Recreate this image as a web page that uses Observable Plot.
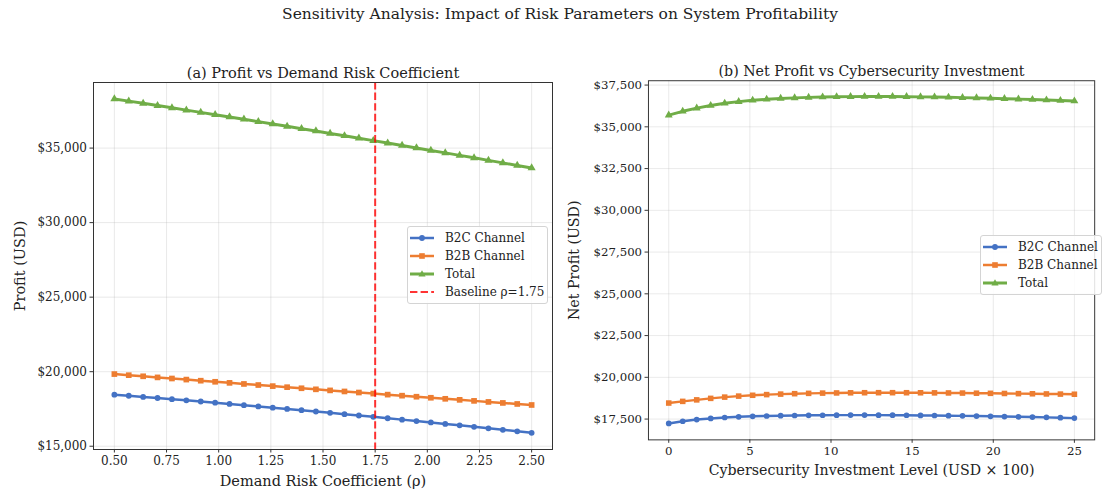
<!DOCTYPE html>
<html><head><meta charset="utf-8">
<script src="https://cdn.jsdelivr.net/npm/d3@7"></script>
<script src="https://cdn.jsdelivr.net/npm/@observablehq/plot@0.6"></script>
<style>
html,body{margin:0;padding:0;background:#fff;}
body{width:1103px;height:498px;overflow:hidden;position:relative;font-family:"DejaVu Serif",serif;color:#222;}
#title{position:absolute;left:0;top:4px;width:1120px;text-align:center;font-size:15.5px;line-height:20px;}
.panel{position:absolute;top:0;}
.legend{position:absolute;background:rgba(255,255,255,0.85);border:1px solid #d4d4d4;border-radius:3px;padding:2px 0 2px 2px;font-size:12px;box-sizing:content-box;}
.row{display:flex;align-items:center;height:18px;white-space:nowrap;}
.row svg{margin-right:11px;flex:none;}
</style></head><body>
<div id="title">Sensitivity Analysis: Impact of Risk Parameters on System Profitability</div>
<div id="left" class="panel" style="left:0"></div>
<div id="right" class="panel" style="left:555px"></div>
<div id="legA" class="legend" style="left:407px;top:226px;width:137px"></div>
<div id="legB" class="legend" style="left:980px;top:235px;width:118px"></div>
<script>
// ---- Panel (a): demand risk coefficient ----
const rho = [0.5,0.569,0.638,0.707,0.776,0.845,0.914,0.983,1.052,1.121,1.190,1.259,1.328,1.397,1.466,1.534,1.603,1.672,1.741,1.810,1.879,1.948,2.017,2.086,2.155,2.224,2.293,2.362,2.431,2.5];
const b2cA = [18460,18386,18310,18234,18156,18078,17999,17918,17837,17755,17671,17587,17502,17416,17328,17240,17151,17060,16969,16877,16784,16689,16594,16498,16401,16303,16203,16103,16002,15900];
const b2bA = [19840,19765,19691,19617,19543,19470,19396,19323,19250,19177,19105,19032,18960,18888,18817,18745,18674,18603,18532,18461,18391,18321,18251,18181,18111,18042,17972,17904,17835,17766];
const totA = [38300,38151,38001,37851,37699,37548,37395,37241,37087,36932,36776,36619,36462,36304,36145,35985,35825,35663,35501,35338,35175,35010,34845,34679,34512,34345,34175,34007,33837,33666];
const baselineRho = 1.75;
const xTicksA = [0.5,0.75,1.0,1.25,1.5,1.75,2.0,2.25,2.5];
const yTicksA = [15000,20000,25000,30000,35000];

// ---- Panel (b): cybersecurity investment ----
const invest = [0,0.862,1.724,2.586,3.448,4.310,5.172,6.034,6.897,7.759,8.621,9.483,10.345,11.207,12.069,12.931,13.793,14.655,15.517,16.379,17.241,18.103,18.966,19.828,20.690,21.552,22.414,23.276,24.138,25];
const b2cB = [17240,17370,17470,17540,17595,17635,17665,17685,17705,17715,17725,17730,17735,17737,17737,17735,17732,17727,17720,17713,17703,17692,17680,17666,17652,17636,17620,17603,17582,17558];
const b2bB = [18460,18560,18650,18740,18815,18875,18925,18965,18995,19020,19040,19055,19065,19073,19078,19080,19080,19078,19075,19070,19065,19058,19050,19042,19033,19024,19015,19005,18996,18987];
const totB = [35700,35930,36120,36280,36410,36510,36590,36650,36700,36735,36765,36785,36800,36810,36815,36815,36812,36805,36795,36783,36768,36750,36730,36708,36685,36660,36635,36608,36578,36545];
const xTicksB = [0,5,10,15,20,25];
const yTicksB = [17500,20000,22500,25000,27500,30000,32500,35000,37500];

const seriesNames = ["B2C Channel","B2B Channel","Total"];
const colors = {"B2C Channel":"#4472C4","B2B Channel":"#ED7D31","Total":"#70AD47"};
const symbols = {"B2C Channel":"circle","B2B Channel":"square","Total":"triangle"};

const usd = d => "$" + d3.format(",")(d);

function rows(xs, ys) { return xs.map((x,i)=>({x, y: ys[i]})); }

function panel(opts) {
  const {xs, data, xDomain, yDomain, xTicks, xFmt, yTicks, title, xLabel, yLabel, ml, mr, width, baseline, ylabDx} = opts;
  const marks = [
    Plot.ruleX(xTicks, {stroke:"#b0b0b0", strokeOpacity:0.35, strokeWidth:0.8}),
    Plot.ruleY(yTicks, {stroke:"#b0b0b0", strokeOpacity:0.35, strokeWidth:0.8}),
  ];
  seriesNames.forEach((name, k) => {
    const r = rows(xs, data[k]);
    const sw = name === "Total" ? 3 : 2.5;
    marks.push(Plot.line(r, {x:"x", y:"y", stroke: colors[name], strokeWidth: sw}));
    const rr = name === "B2C Channel" ? 2.9 : name === "B2B Channel" ? 3.2 : 3.0;
    marks.push(Plot.dot(r, {x:"x", y:"y", symbol: symbols[name], r: rr, fill: colors[name], stroke: "none"}));
  });
  if (baseline != null) {
    marks.push(Plot.ruleX([baseline], {stroke:"red", strokeOpacity:0.8, strokeWidth:2, strokeDasharray:"7.4,3.2"}));
  }
  marks.push(
    Plot.frame({stroke:"#333", strokeWidth:1}),
    Plot.axisX({ticks: xTicks, tickFormat: xFmt, tickSize: 3.5, tickPadding: 3, label: null, stroke:"#333", fill:"#222", fontSize: 12}),
    Plot.axisY({ticks: yTicks, tickFormat: usd, tickSize: 3.5, tickPadding: 3, label: null, stroke:"#333", fill:"#222", fontSize: 12}),
    Plot.text([title], {text: d=>d, frameAnchor:"top", dy:-14.7, fontSize:14.5, fill:"#222"}),
    Plot.text([xLabel], {text: d=>d, frameAnchor:"bottom", dy:36, fontSize:14.5, fill:"#222"}),
    Plot.text([yLabel], {text: d=>d, frameAnchor:"left", textAnchor:"middle", rotate:-90, dx:ylabDx, fontSize:14.5, fill:"#222"})
  );
  return Plot.plot({
    width, height: 498,
    marginLeft: ml, marginRight: mr, marginTop: 82, marginBottom: 49,
    x: {domain: xDomain},
    y: {domain: yDomain},
    style: {fontFamily: "DejaVu Serif", fontSize: "12px", color: "#222", background: "transparent", overflow: "visible"},
    marks
  });
}

document.getElementById("left").append(panel({
  xs: rho, data: [b2cA, b2bA, totA], xDomain: [0.4, 2.6], yDomain: [14780, 39400],
  xTicks: xTicksA, xFmt: d => d.toFixed(2), yTicks: yTicksA,
  title: "(a) Profit vs Demand Risk Coefficient", xLabel: "Demand Risk Coefficient (ρ)", yLabel: "Profit (USD)",
  ml: 93, mr: 8, width: 560, baseline: baselineRho, ylabDx: -73.6
}));
document.getElementById("right").append(panel({
  xs: invest, data: [b2cB, b2bB, totB], xDomain: [-1.25, 26.25], yDomain: [16255, 37760],
  xTicks: xTicksB, xFmt: d => String(d), yTicks: yTicksB,
  title: "(b) Net Profit vs Cybersecurity Investment", xLabel: "Cybersecurity Investment Level (USD × 100)", yLabel: "Net Profit (USD)",
  ml: 95, mr: 9, width: 560, baseline: null, ylabDx: -76
}));

// legends
function sample(name) {
  const c = colors[name];
  const sw = name === "Total" ? 3 : 2.5;
  let m = "";
  if (symbols[name] === "circle") m = `<circle cx="12" cy="9" r="2.9" fill="${c}"/>`;
  else if (symbols[name] === "square") m = `<rect x="9.2" y="6.2" width="5.6" height="5.6" fill="${c}"/>`;
  else m = `<polygon points="12,5.3 15.6,11.5 8.4,11.5" fill="${c}"/>`;
  return `<svg width="24" height="18"><line x1="0" x2="24" y1="9" y2="9" stroke="${c}" stroke-width="${sw}"/>${m}</svg>`;
}
function legend(id, withBaseline) {
  const el = document.getElementById(id);
  let html = seriesNames.map(n => `<div class="row">${sample(n)}<span>${n}</span></div>`).join("");
  if (withBaseline) {
    html += `<div class="row"><svg width="24" height="18"><line x1="0" x2="24" y1="9" y2="9" stroke="red" stroke-opacity="0.8" stroke-width="2" stroke-dasharray="7.4,3.2"/></svg><span>Baseline ρ=${baselineRho}</span></div>`;
  }
  el.innerHTML = html;
}
legend("legA", true);
legend("legB", false);
</script>
</body></html>
